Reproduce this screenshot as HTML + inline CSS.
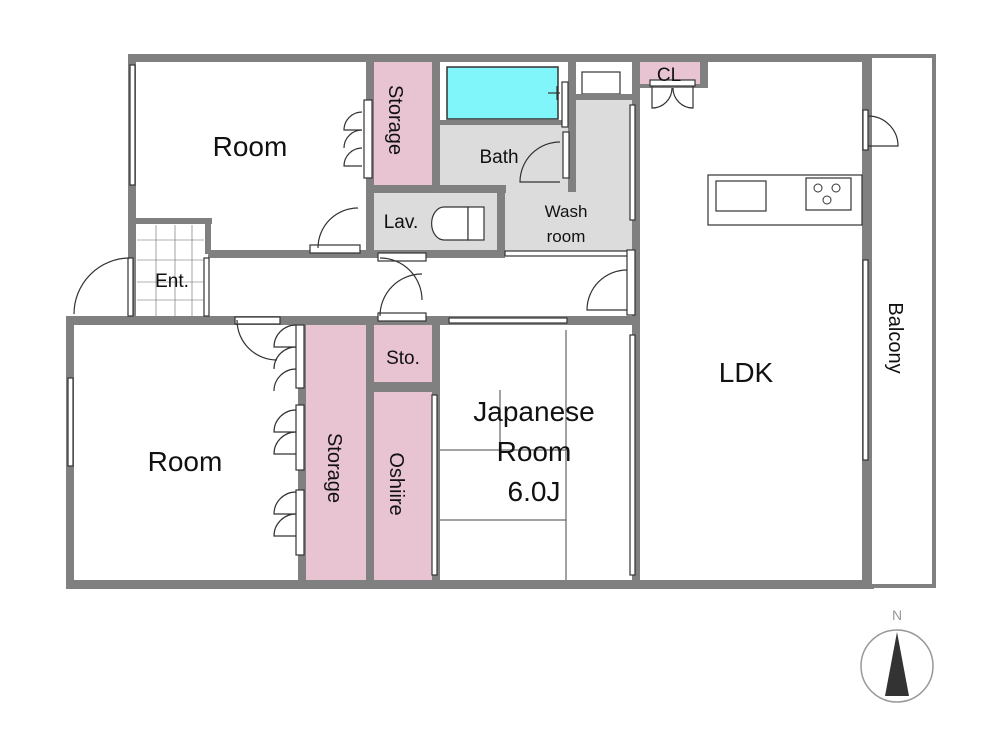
<!DOCTYPE html>
<html><head><meta charset="utf-8"><style>
html,body{margin:0;padding:0;background:#fff;}
svg{display:block;font-family:"Liberation Sans",sans-serif;}
</style></head><body>
<svg width="1000" height="750" viewBox="0 0 1000 750">
<rect x="374" y="62" width="58" height="123" fill="#e8c3d1"/>
<rect x="440" y="125" width="128" height="63" fill="#dcdcdc"/>
<rect x="572" y="100" width="60" height="155" fill="#dcdcdc"/>
<rect x="505" y="188" width="127" height="67" fill="#dcdcdc"/>
<rect x="374" y="193" width="123" height="57" fill="#dcdcdc"/>
<rect x="640" y="62" width="60" height="24" fill="#e8c3d1"/>
<rect x="305" y="325" width="61" height="255" fill="#e8c3d1"/>
<rect x="374" y="325" width="58" height="57" fill="#e8c3d1"/>
<rect x="374" y="392" width="58" height="188" fill="#e8c3d1"/>
<rect x="442" y="62" width="124" height="62" fill="#fff"/>
<rect x="447" y="67" width="111" height="52" fill="#80f5fa" stroke="#333" stroke-width="1.5"/>
<g stroke="#333" stroke-width="1.2" fill="none"><line x1="548" y1="93" x2="560" y2="93"/><line x1="557" y1="86" x2="557" y2="100"/></g>
<rect x="576" y="62" width="56" height="38" fill="#fff"/>
<rect x="582" y="72" width="38" height="22" fill="#fff" stroke="#333" stroke-width="1.2"/>
<g fill="#808080">
<rect x="128" y="54" width="742" height="8"/>
<rect x="128" y="54" width="8" height="204"/>
<rect x="208" y="250" width="290" height="8"/>
<rect x="497" y="250" width="8" height="8"/>
<rect x="366" y="54" width="8" height="204"/>
<rect x="432" y="54" width="8" height="134"/>
<rect x="366" y="185" width="140" height="8"/>
<rect x="497" y="185" width="8" height="70"/>
<rect x="568" y="54" width="8" height="138"/>
<rect x="440" y="120" width="130" height="5"/>
<rect x="568" y="94" width="64" height="6"/>
<rect x="632" y="54" width="8" height="535"/>
<rect x="700" y="54" width="8" height="32"/>
<rect x="640" y="84" width="68" height="4"/>
<rect x="862" y="54" width="8" height="535"/>
<rect x="130" y="218" width="82" height="6"/>
<rect x="130" y="218" width="6" height="100"/>
<rect x="205" y="218" width="6" height="36"/>
<rect x="66" y="316" width="574" height="9"/>
<rect x="66" y="316" width="8" height="273"/>
<rect x="66" y="580" width="808" height="9"/>
<rect x="298" y="320" width="8" height="265"/>
<rect x="366" y="320" width="8" height="265"/>
<rect x="432" y="320" width="8" height="265"/>
<rect x="370" y="382" width="66" height="10"/>
<rect x="866" y="54" width="6" height="535"/>
</g>
<rect x="870" y="56" width="64" height="530" fill="#fff" stroke="#808080" stroke-width="4"/>
<g fill="#fff" stroke="#333" stroke-width="1.2">
<rect x="130" y="65" width="5" height="120"/>
<rect x="68" y="378" width="5" height="88"/>
<rect x="364" y="100" width="8" height="78"/>
<rect x="310" y="245" width="50" height="8"/>
<rect x="378" y="253" width="48" height="8"/>
<rect x="378" y="313" width="48" height="8"/>
<rect x="505" y="251" width="125" height="5"/>
<rect x="449" y="318" width="118" height="5"/>
<rect x="627" y="250" width="8" height="65"/>
<rect x="630" y="105" width="5" height="115"/>
<rect x="630" y="335" width="5" height="240"/>
<rect x="432" y="395" width="5" height="180"/>
<rect x="863" y="260" width="5" height="200"/>
<rect x="863" y="110" width="5" height="40"/>
<rect x="235" y="317" width="45" height="7"/>
<rect x="296" y="325" width="8" height="63"/>
<rect x="296" y="405" width="8" height="65"/>
<rect x="296" y="490" width="8" height="65"/>
<rect x="562" y="82" width="6" height="45"/>
<rect x="563" y="132" width="6" height="46"/>
<rect x="650" y="80" width="45" height="6"/>
<rect x="128" y="258" width="5" height="58"/>
<rect x="204" y="258" width="5" height="58"/>
</g>
<g fill="none" stroke="#333" stroke-width="1.2">
<path d="M362 112 A18 18 0 0 0 344 130 L362 130 M362 130 A18 18 0 0 0 344 148 M362 148 A18 18 0 0 0 344 166 L362 166"/>
<path d="M358 208 A40 40 0 0 0 318 248"/>
<path d="M560 142 A40 40 0 0 0 520 182 L560 182"/>
<path d="M130 258 A56 56 0 0 0 74 314"/>
<path d="M380 258 A42 42 0 0 1 422 300 M380 316 A42 42 0 0 1 422 274"/>
<path d="M627 270 A40 40 0 0 0 587 310 L627 310"/>
<path d="M237 320 A40 40 0 0 0 277 360 M296 325 A22 22 0 0 0 274 347 L296 347 M296 347 A22 22 0 0 0 274 369 M296 369 A22 22 0 0 0 274 391"/>
<path d="M296 410 A22 22 0 0 0 274 432 L296 432 M296 432 A22 22 0 0 0 274 454 L296 454"/>
<path d="M296 492 A22 22 0 0 0 274 514 L296 514 M296 514 A22 22 0 0 0 274 536 L296 536"/>
<path d="M652 86 L652 108 A20 20 0 0 0 672 88 M693 86 L693 108 A20 20 0 0 1 673 88"/>
<path d="M868 116 A30 30 0 0 1 898 146 L868 146"/>
</g>
<g fill="none" stroke="#444" stroke-width="1">
<path d="M440 520 L566 520 M500 390 L500 450 M566 330 L566 580 M440 450 L566 450"/>
</g>
<g stroke="#666" stroke-width="0.6" fill="none">
<path d="M137 240 H204 M137 260 H204 M137 282 H204 M137 300 H204 M156 225 V316 M175 225 V316 M192 225 V316"/>
</g>
<g fill="#fff" stroke="#333" stroke-width="1.2">
<path d="M468 207 L444 207 A12 16 0 0 0 444 240 L468 240 Z"/>
<rect x="468" y="207" width="16" height="33"/>
</g>
<rect x="708" y="175" width="154" height="50" fill="#fff" stroke="#333" stroke-width="1.2"/>
<rect x="716" y="181" width="50" height="30" fill="#fff" stroke="#333" stroke-width="1.2"/>
<rect x="806" y="178" width="45" height="32" fill="#fff" stroke="#333" stroke-width="1.2"/>
<g fill="none" stroke="#333" stroke-width="1"><circle cx="818" cy="188" r="4"/><circle cx="836" cy="188" r="4"/><circle cx="827" cy="200" r="4"/></g>
<circle cx="897" cy="666" r="36" fill="none" stroke="#999" stroke-width="1.5"/>
<path d="M897 632 L885 696 L909 696 Z" fill="#333"/>
<text x="897" y="620" font-size="14" text-anchor="middle" fill="#999">N</text>
<g fill="#111" font-size="28" text-anchor="middle">
<text x="250" y="156">Room</text>
<text x="185" y="471">Room</text>
<text x="746" y="382">LDK</text>
<text x="534" y="421">Japanese</text>
<text x="534" y="461">Room</text>
<text x="534" y="501">6.0J</text>
</g>
<g fill="#111" font-size="19" text-anchor="middle">
<text x="499" y="163">Bath</text>
<text x="401" y="228">Lav.</text>
<text x="172" y="287">Ent.</text>
<text x="403" y="364">Sto.</text>
<text x="669" y="81">CL</text>
</g>
<g fill="#111" font-size="17" text-anchor="middle">
<text x="566" y="217">Wash</text>
<text x="566" y="242">room</text>
</g>
<g fill="#111" font-size="20" text-anchor="middle">
<text transform="translate(396,120) rotate(90)" dy="7">Storage</text>
<text transform="translate(335,468) rotate(90)" dy="7">Storage</text>
<text transform="translate(397,484) rotate(90)" dy="7">Oshiire</text>
<text transform="translate(896,338) rotate(90)" dy="7">Balcony</text>
</g>
</svg>
</body></html>
